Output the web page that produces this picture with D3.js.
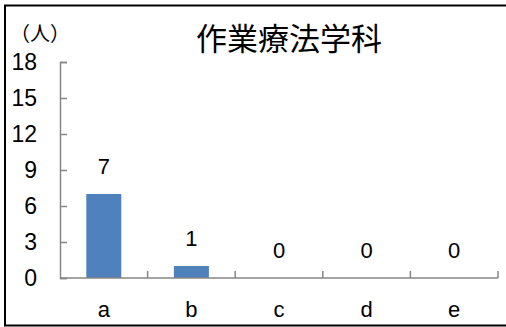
<!DOCTYPE html>
<html><head><meta charset="utf-8">
<script src="https://cdn.jsdelivr.net/npm/d3@7"></script>
<style>body{margin:0;background:#fff}svg{display:block}</style>
</head><body>
<svg id="c" width="506" height="327"></svg>
<script>
const categories = ["a","b","c","d","e"];
const values = [7,1,0,0,0];
const yTicks = [0,3,6,9,12,15,18];
const title = "作業療法学科";
const unitLabel = "（人）";

const svg = d3.select("#c");
const latin = "'Liberation Sans', Arial, sans-serif";
const cjk = "'Noto Sans CJK JP', sans-serif";

svg.append("rect").attr("x",5).attr("y",5.5).attr("width",510).attr("height",320)
  .attr("fill","#fff").attr("stroke","#000").attr("stroke-width",2);

const xb = d3.scaleBand().domain(categories).range([60,498]);
const y = d3.scaleLinear().domain([0,18]).range([278,62]);
const axisColor = "#868686";

// bars
svg.selectAll("rect.bar").data(values).join("rect").attr("class","bar")
  .attr("x",(d,i)=>xb(categories[i]) + xb.bandwidth()/2 - 17.5)
  .attr("width",35)
  .attr("y",d=>y(d)).attr("height",d=>y(0)-y(d))
  .attr("fill","#4F81BD");

// y axis
const ya = svg.append("g").attr("transform","translate(60,0)")
  .call(d3.axisRight(y).tickValues(yTicks).tickSize(7).tickFormat(""));
ya.select(".domain").attr("stroke",axisColor).attr("stroke-width",1.5);
ya.selectAll(".tick line").attr("stroke",axisColor).attr("stroke-width",1.5);
svg.selectAll("text.yt").data(yTicks).join("text").attr("class","yt")
  .attr("x",37).attr("y",d=>y(d)+8).attr("text-anchor","end")
  .attr("font-family",latin).attr("font-size",23).attr("fill","#000").text(d=>d);

// x axis
const xa = svg.append("g").attr("transform","translate(0,278)");
xa.append("line").attr("x1",60).attr("x2",498).attr("stroke",axisColor).attr("stroke-width",1.5);
const edges = categories.map(c=>xb(c)+xb.bandwidth());
xa.selectAll("line.xt").data(edges).join("line").attr("class","xt")
  .attr("x1",d=>d).attr("x2",d=>d).attr("y1",0).attr("y2",-7)
  .attr("stroke",axisColor).attr("stroke-width",1.5);
svg.selectAll("text.xl").data(categories).join("text").attr("class","xl")
  .attr("x",d=>xb(d)+xb.bandwidth()/2).attr("y",317).attr("text-anchor","middle")
  .attr("font-family",latin).attr("font-size",22).attr("fill","#000").text(d=>d);

// value labels
svg.selectAll("text.vl").data(values).join("text").attr("class","vl")
  .attr("x",(d,i)=>xb(categories[i])+xb.bandwidth()/2).attr("y",d=>y(d)-20)
  .attr("text-anchor","middle")
  .attr("font-family",latin).attr("font-size",22).attr("fill","#000").text(d=>d);

// title
svg.append("text").attr("x",289).attr("y",50).attr("text-anchor","middle")
  .attr("font-family",cjk).attr("font-size",31).attr("fill","#000").text(title);
// unit
svg.append("text").attr("x",10).attr("y",41)
  .attr("font-family",cjk).attr("font-size",20).attr("fill","#000").text(unitLabel);
</script>
</body></html>
